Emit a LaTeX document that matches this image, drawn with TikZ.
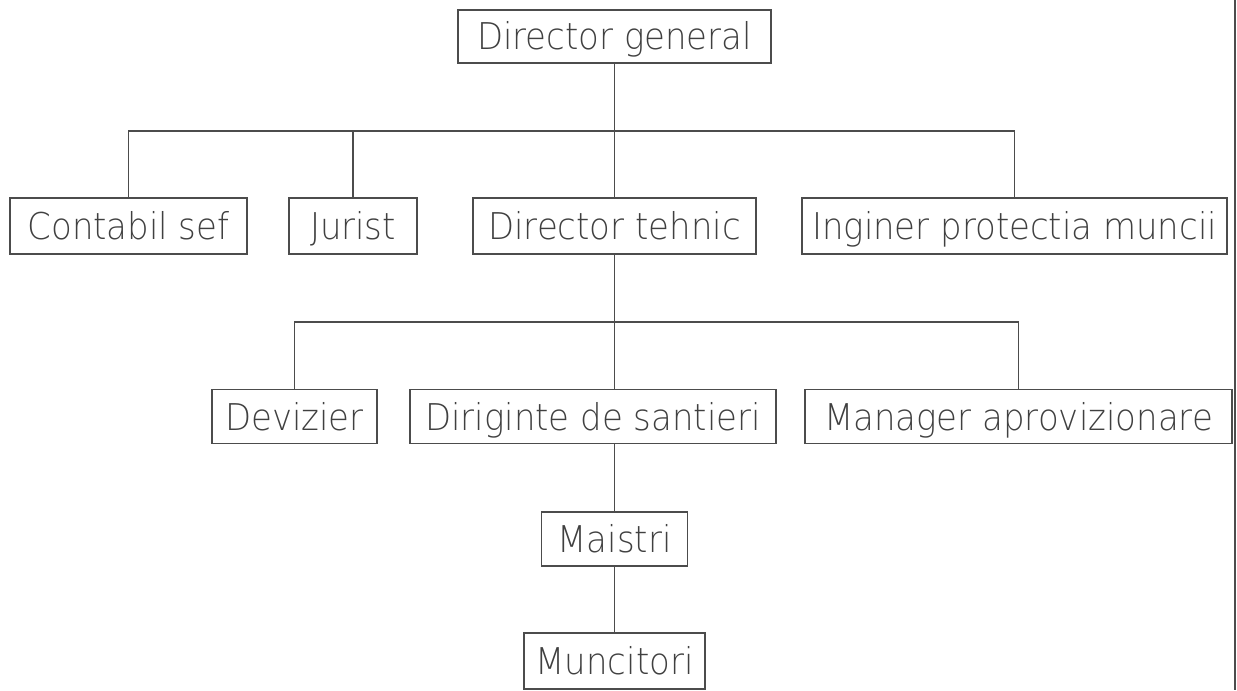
\documentclass[tikz,border=0pt]{standalone}
\usepackage{fontspec}
\setmainfont{DejaVu Sans ExtraLight}[FakeStretch=0.92]
\usepackage{tikz}

\begin{document}
\begin{tikzpicture}[x=0.02cm,y=-0.02cm]
\tikzset{post/.style = {shape=rectangle,draw=black!70,line width=0.8pt,inner sep=0pt,text height=0.54cm,text depth=0pt,font=\fontsize{21}{25}\selectfont,text=black!75}}
\tikzset{edge/.style = {draw=black!70,line width=0.8pt}}
\useasboundingbox (0,0) rectangle (1237,690);
% posts
\node[post,minimum width=6.26cm,minimum height=1.06cm] (dg) at (614.5,36.5) {Director general};
\node[post,minimum width=4.74cm,minimum height=1.12cm] (cs) at (128.5,226) {Contabil sef};
\node[post,minimum width=2.56cm,minimum height=1.12cm] (ju) at (353,226) {Jurist};
\node[post,minimum width=5.66cm,minimum height=1.12cm] (dt) at (614.5,226) {Director tehnic};
\node[post,minimum width=8.5cm,minimum height=1.12cm] (ip) at (1014.5,226) {Inginer protectia muncii};
\node[post,minimum width=3.3cm,minimum height=1.08cm] (dv) at (294.5,416.5) {Devizier};
\node[post,minimum width=7.32cm,minimum height=1.08cm] (ds) at (593,416.5) {Diriginte de santieri};
\node[post,minimum width=8.54cm,minimum height=1.08cm] (ma) at (1018.5,416.5) {Manager aprovizionare};
\node[post,minimum width=2.92cm,minimum height=1.08cm] (mi) at (614.5,539) {Maistri};
\node[post,minimum width=3.62cm,minimum height=1.12cm] (mu) at (614.5,661) {Muncitori};
\coordinate (top) at (614.5,131);
\coordinate (mid) at (614.5,322);
%edges
\draw[edge] (dg) -- (dt);
\draw[edge] (cs) |- (top) -| (ip);
\draw[edge] (ju) -- (ju |- top);
\draw[edge] (dt.south) -- (dt.south |- ds.north);
\draw[edge] (dv) |- (mid) -| (ma);
\draw[edge] (mi) -- (mi |- ds.south);
\draw[edge] (mi) -- (mu);
\draw[edge] (1235,0) -- (1235,690);
\end{tikzpicture}
\end{document}
